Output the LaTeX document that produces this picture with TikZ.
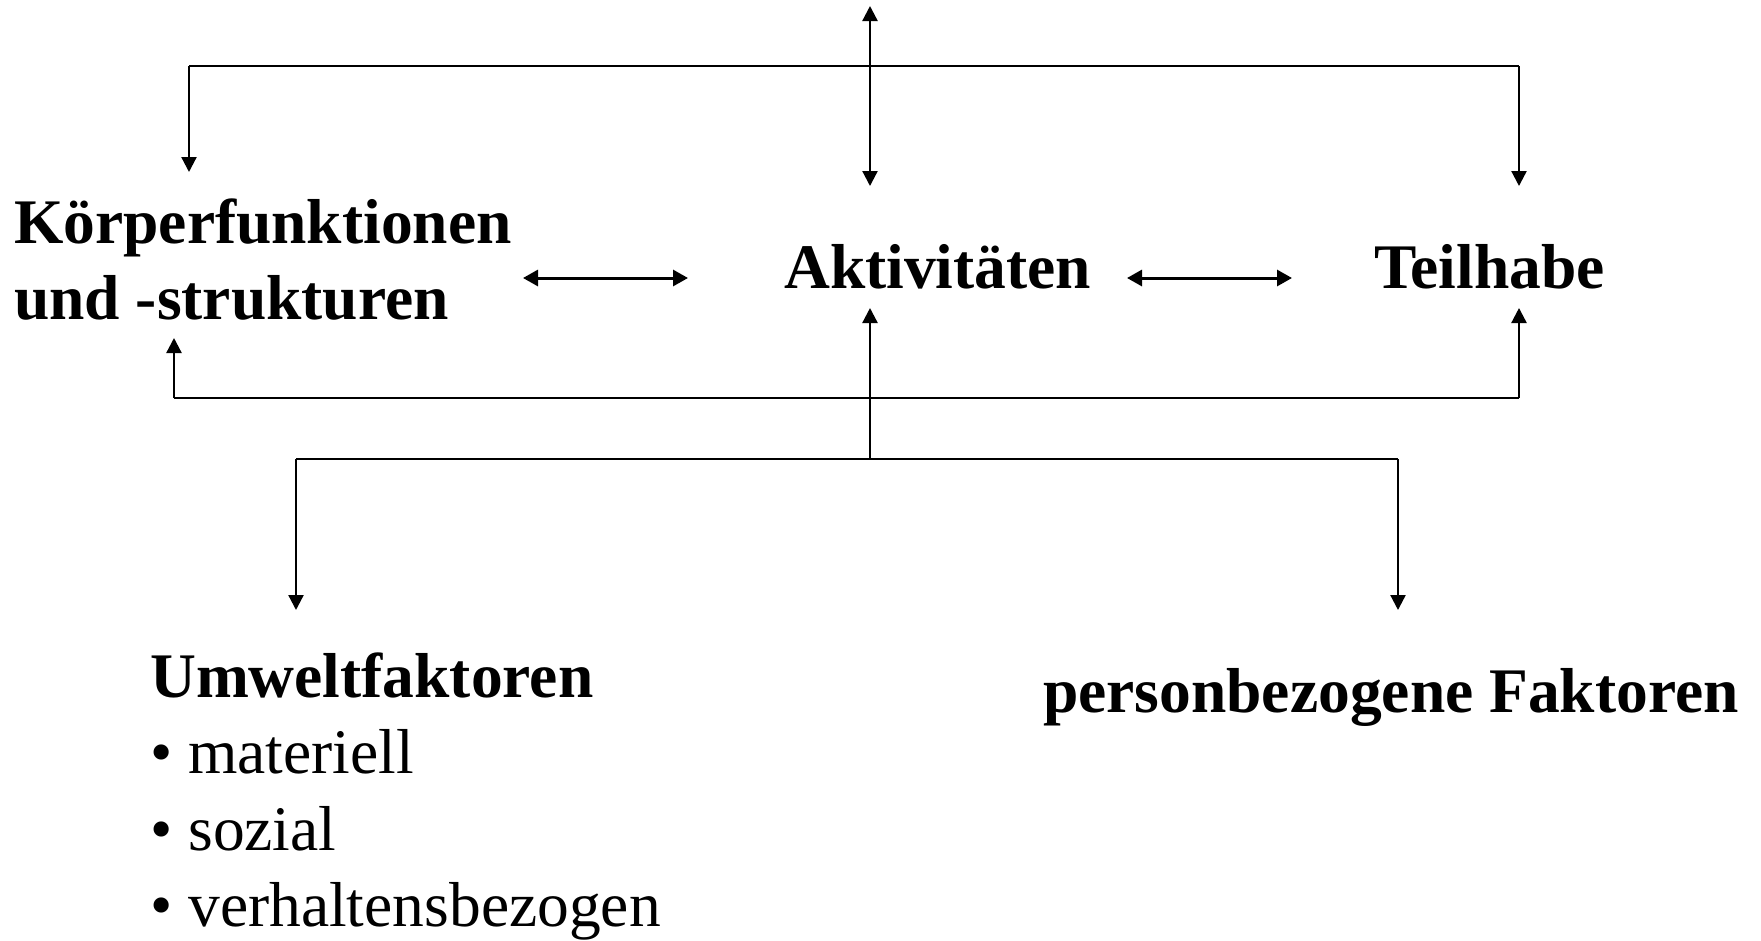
\documentclass[tikz,border=0pt]{standalone}
\usepackage{fontspec}
\setmainfont{Liberation Serif}
\usetikzlibrary{arrows.meta}
\newcommand\myfont{\fontsize{63.5}{76.5}\selectfont}
\tikzset{
  lbl/.style={anchor=base west, inner sep=0pt, font=\myfont},
  tip/.style={Triangle[length=15pt,width=15pt]},
  conn/.style={line width=2.3pt, -{Triangle[length=15pt,width=15pt]}},
  dconn/.style={line width=2.3pt, {Triangle[length=15pt,width=15pt]}-{Triangle[length=15pt,width=15pt]}},
  hconn/.style={line width=3pt, {Triangle[length=15pt,width=16pt]}-{Triangle[length=15pt,width=16pt]}},
  plain/.style={line width=2.3pt}
}
\begin{document}
\begin{tikzpicture}[x=1pt,y=-1pt]
\path[use as bounding box] (0,0) rectangle (1761,940);

% nodes
\node[lbl] (koerper) at (14,243) {\begin{tabular}[t]{@{}l@{}}\textbf{Körperfunktionen}\\\textbf{und -strukturen}\end{tabular}};
\node[lbl] (aktiv) at (784,288) {\textbf{Aktivitäten}};
\node[lbl] (teil) at (1374,288) {\textbf{Teilhabe}};
\node[lbl] (umwelt) at (150,697) {\begin{tabular}[t]{@{}l@{}}\textbf{Umweltfaktoren}\\• materiell\\• sozial\\• verhaltensbezogen\end{tabular}};
\node[lbl] (person) at (1043,712) {\textbf{personbezogene Faktoren}};

% junction and end coordinates
\coordinate (topend) at (870,6);
\coordinate (tA) at (870,186);
\coordinate (topL) at (189,66);
\coordinate (topR) at (1519,66);
\coordinate (tK) at (189,172);
\coordinate (tT) at (1519,186);
\coordinate (dKa) at (523,278);
\coordinate (dKb) at (688,278);
\coordinate (dTa) at (1127,278);
\coordinate (dTb) at (1292,278);
\coordinate (midA) at (870,459);
\coordinate (uA) at (870,308);
\coordinate (botL) at (174,398);
\coordinate (botR) at (1519,398);
\coordinate (uK) at (174,338);
\coordinate (uT) at (1519,308);
\coordinate (lowL) at (296,459);
\coordinate (lowR) at (1398,459);
\coordinate (dU) at (296,610);
\coordinate (dP) at (1398,610);

% connectors
\draw[dconn] (topend) -- (tA);
\draw[plain] (topL) -- (topR);
\draw[conn] (topL) -- (tK);
\draw[conn] (topR) -- (tT);
\draw[hconn] (dKa) -- (dKb);
\draw[hconn] (dTa) -- (dTb);
\draw[conn] (midA) -- (uA);
\draw[plain] (botL) -- (botR);
\draw[conn] (botL) -- (uK);
\draw[conn] (botR) -- (uT);
\draw[plain] (lowL) -- (lowR);
\draw[conn] (lowL) -- (dU);
\draw[conn] (lowR) -- (dP);
\end{tikzpicture}
\end{document}
